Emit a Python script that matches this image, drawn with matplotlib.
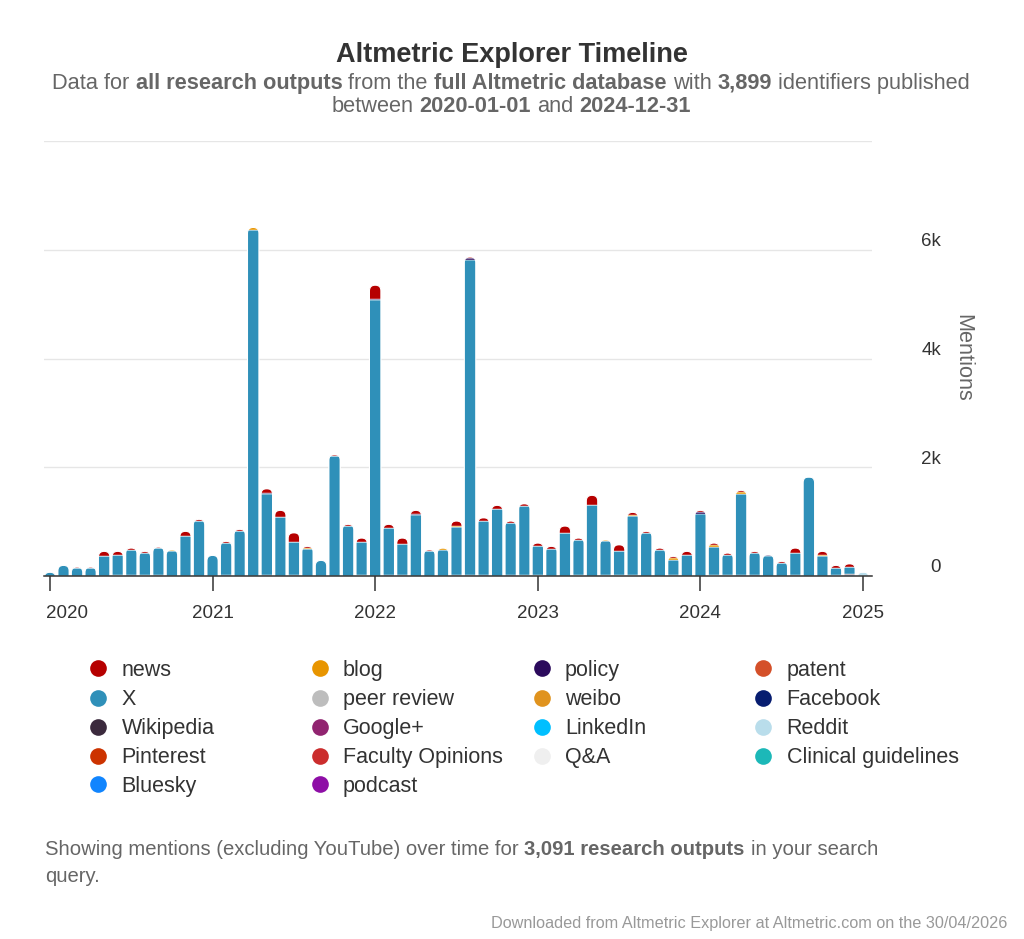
import matplotlib
matplotlib.use("Agg")
import matplotlib.pyplot as plt
from matplotlib.patches import FancyBboxPatch
from matplotlib.lines import Line2D

plt.rcParams['font.family'] = ['Liberation Sans', 'DejaVu Sans']

W, H = 1024, 939

# months since 2020-01 (last one is 2025-01)
months = list(range(61))
year_ticks = [0, 12, 24, 36, 48, 60]
year_labels = ['2020', '2021', '2022', '2023', '2024', '2025']
y_ticks = [0, 2000, 4000, 6000, 8000]
y_labels = ['0', '2k', '4k', '6k', '']

news = [0, 0, 25, 25, 90, 70, 30, 30, 25, 0, 90, 30,
        0, 30, 30, 0, 80, 130, 180, 25, 0, 30, 30, 70,
        260, 70, 110, 60, 20, 0, 90, 30, 60, 60, 30, 50,
        50, 50, 130, 40, 185, 0, 120, 40, 30, 30, 40, 60,
        30, 40, 40, 40, 40, 0, 40, 100, 0, 60, 40, 60, 0]
blog = [0, 0, 0, 0, 0, 0, 0, 0, 0, 30, 0, 0,
        0, 0, 0, 40, 0, 0, 0, 30, 0, 0, 0, 0,
        0, 0, 0, 0, 0, 30, 30, 0, 0, 0, 0, 0,
        0, 0, 0, 0, 0, 30, 0, 30, 0, 0, 30, 0,
        0, 30, 0, 30, 0, 0, 0, 0, 0, 25, 0, 0, 0]
policy = [0, 0, 0, 0, 0, 0, 0, 0, 0, 0, 0, 0,
          0, 0, 0, 0, 20, 0, 0, 0, 0, 0, 0, 0,
          20, 0, 0, 30, 0, 0, 0, 30, 0, 0, 0, 0,
          0, 0, 0, 0, 0, 0, 0, 0, 0, 0, 0, 0,
          30, 0, 0, 0, 0, 30, 0, 0, 0, 0, 0, 0, 0]
x_posts = [70, 196, 141, 141, 364, 369, 465, 409, 489, 455, 732, 1013,
           380, 588, 829, 6370, 1487, 1078, 597, 491, 288, 2203, 921, 614,
           5069, 861, 569, 1118, 465, 485, 872, 5790, 993, 1240, 962, 1261,
           537, 496, 790, 644, 1299, 624, 442, 1086, 792, 485, 272, 394,
           1148, 522, 368, 1486, 394, 363, 230, 395, 1822, 369, 136, 127, 0]
peer_review = [0, 0, 0, 0, 0, 15, 0, 15, 0, 0, 0, 0,
               0, 0, 0, 0, 0, 0, 0, 0, 0, 0, 0, 15,
               0, 0, 0, 0, 0, 0, 0, 0, 0, 0, 0, 20,
               20, 0, 0, 15, 0, 15, 15, 15, 0, 0, 0, 0,
               0, 15, 15, 0, 0, 0, 0, 0, 0, 0, 0, 0, 0]
facebook = [0, 0, 0, 0, 0, 0, 20, 0, 0, 0, 0, 0,
            0, 20, 0, 0, 0, 0, 0, 0, 0, 0, 0, 0,
            0, 20, 0, 0, 0, 0, 0, 0, 20, 0, 20, 0,
            0, 0, 0, 0, 0, 0, 0, 0, 0, 0, 0, 0,
            0, 0, 0, 20, 20, 0, 0, 0, 0, 0, 0, 0, 0]
wikipedia = [0, 0, 0, 0, 0, 0, 0, 0, 20, 0, 0, 0,
             0, 0, 0, 0, 20, 0, 20, 0, 0, 0, 0, 0,
             0, 0, 20, 0, 0, 0, 20, 20, 0, 0, 0, 0,
             0, 0, 0, 0, 0, 0, 0, 0, 0, 0, 20, 0,
             0, 0, 0, 0, 0, 0, 0, 20, 0, 0, 0, 20, 0]
reddit = [0] * 60 + [74]
bluesky = [0] * 58 + [20, 20, 0]
no_mentions = [0] * 61

# legend order (Highcharts stacks the first one on top)
series = [
    ('news', '#b60000', news),
    ('blog', '#e89500', blog),
    ('policy', '#2b0a5c', policy),
    ('patent', '#d45029', no_mentions),
    ('X', '#2f90b9', x_posts),
    ('peer review', '#bdbdbd', peer_review),
    ('weibo', '#e0931e', no_mentions),
    ('Facebook', '#071d70', facebook),
    ('Wikipedia', '#3b2a3d', wikipedia),
    ('Google+', '#912470', no_mentions),
    ('LinkedIn', '#00bfff', no_mentions),
    ('Reddit', '#b9ddeb', reddit),
    ('Pinterest', '#cc3300', no_mentions),
    ('Faculty Opinions', '#cb2d2d', no_mentions),
    ('Q&A', '#efefef', no_mentions),
    ('Clinical guidelines', '#1cb8b8', no_mentions),
    ('Bluesky', '#1185fe', bluesky),
    ('podcast', '#8e0ea6', no_mentions),
]

fig = plt.figure(figsize=(W / 100, H / 100), dpi=100)

# plot area in pixels
px_l, px_r, px_t, px_b = 44, 872, 141, 576
ax = fig.add_axes([px_l / W, (H - px_b) / H, (px_r - px_l) / W, (px_b - px_t) / H])
xmin, xmax = -0.44, 60.66
ymax = 8000
ax.set_xlim(xmin, xmax)
ax.set_ylim(0, ymax)

ax.set_yticks(y_ticks)
ax.yaxis.grid(True, color='#e6e6e6', linewidth=1)
ax.set_axisbelow(True)
ax.tick_params(axis='y', length=0, labelleft=False, labelright=False)
ax.set_xticks(year_ticks)
ax.set_xticklabels([])
ax.tick_params(axis='x', direction='out', length=11, width=1.1, color='#333333')
for s in ['top', 'left', 'right']:
    ax.spines[s].set_visible(False)
ax.spines['bottom'].set_color('#333333')
ax.spines['bottom'].set_linewidth(1.1)
ax.spines['bottom'].set_zorder(5)

# rounded column tops: clip every segment with one rounded box per month
bw = 0.85
px_x = (px_r - px_l) / (xmax - xmin)
px_y = (px_b - px_t) / ymax
aspect = px_x / px_y
totals = [sum(s[2][i] for s in series) for i in months]
clips = []
for i in months:
    p = FancyBboxPatch((i - bw / 2, -3000), bw, totals[i] + 3000,
                       boxstyle=f"round,pad=0,rounding_size={bw / 2}",
                       mutation_aspect=aspect, transform=ax.transData,
                       facecolor='none', edgecolor='white', linewidth=0.8,
                       zorder=3)
    clips.append(p)

bottom = [0] * len(months)
for name, color, vals in reversed(series):
    if not any(vals):
        continue
    bars = ax.bar(months, vals, bottom=bottom, width=bw, color=color,
                  edgecolor='white', linewidth=0.3, zorder=2)
    for i, b in enumerate(bars.patches):
        b.set_clip_path(clips[i])
    bottom = [b + v for b, v in zip(bottom, vals)]
for p in clips:
    ax.add_patch(p)

# year labels (first one kept inside the plot area)
for t, lab in zip(year_ticks, year_labels):
    if t == 0:
        ax.annotate(lab, xy=(t, 0), xycoords=('data', 'axes fraction'),
                    xytext=(-4, -42), textcoords='offset pixels',
                    ha='left', va='baseline', fontsize=13.5, color='#333333')
    else:
        ax.annotate(lab, xy=(t, 0), xycoords=('data', 'axes fraction'),
                    xytext=(0, -42), textcoords='offset pixels',
                    ha='center', va='baseline', fontsize=13.5, color='#333333')

for v, lab in zip(y_ticks, y_labels):
    ax.annotate(lab, xy=(1, v), xycoords=('axes fraction', 'data'),
                xytext=(941 - px_r, 3.5), textcoords='offset pixels',
                ha='right', va='baseline', fontsize=13.5, color='#333333')

# overlay in pixel coordinates for titles, legend and notes
ov = fig.add_axes([0, 0, 1, 1])
ov.set_xlim(0, W)
ov.set_ylim(H, 0)
ov.axis('off')

ov.text(963, 358, 'Mentions', rotation=270, ha='center', va='center',
        fontsize=15.7, color='#666666')

renderer = fig.canvas.get_renderer()


def text_width(s, size, bold):
    t = ov.text(0, 0, s, fontsize=size, fontweight='bold' if bold else 'normal')
    w = t.get_window_extent(renderer).width
    t.remove()
    return w


def rich_line(x, y, parts, size, color, ha='left'):
    # parts: list of (text, bold), drawn one after the other
    segs = []
    gap = False
    for txt, bold in parts:
        segs.append((txt.strip(), bold, gap or txt.startswith(' ')))
        gap = txt.endswith(' ')
    bar = text_width('|', size, False)
    space = text_width('x x', size, False) - text_width('xx', size, False)
    pos = []
    cur = 0.0
    for n, (s, bold, sp) in enumerate(segs):
        if n > 0 and sp:
            cur += space
        pos.append(cur)
        cur += text_width(s + '|', size, bold) - bar
    if ha == 'center':
        x0 = x - cur / 2
    elif ha == 'right':
        x0 = x - cur
    else:
        x0 = x
    for (s, bold, sp), p in zip(segs, pos):
        ov.text(x0 + p, y, s, fontsize=size, color=color, ha='left', va='baseline',
                fontweight='bold' if bold else 'normal')


ov.text(512, 62, 'Altmetric Explorer Timeline', ha='center', va='baseline',
        fontsize=19.5, fontweight='bold', color='#333333')
rich_line(511, 89, [('Data for ', False), ('all research outputs', True),
                    (' from the ', False), ('full Altmetric database', True),
                    (' with ', False), ('3,899', True),
                    (' identifiers published', False)], 15.7, '#666666', ha='center')
rich_line(511, 112, [('between ', False), ('2020-01-01', True), (' and ', False),
                     ('2024-12-31', True)], 15.7, '#666666', ha='center')

# legend, 4 columns
col_mark = [98.3, 320, 541.7, 763]
col_text = [121.7, 343, 565, 786.7]
row_y = [668.3, 697.7, 726.5, 755.5, 784.3]
for k, (name, color, vals) in enumerate(series):
    r, c = divmod(k, 4)
    ov.add_line(Line2D([col_mark[c]], [row_y[r]], marker='o', markersize=12,
                       markerfacecolor=color, markeredgewidth=0, linestyle='none'))
    ov.text(col_text[c], row_y[r] + 7.7, name, ha='left', va='baseline',
            fontsize=15.5, color='#333333')

rich_line(45, 855, [('Showing mentions (excluding YouTube) over time for ', False),
                    ('3,091 research outputs', True), (' in your search', False)],
          14.6, '#666666')
ov.text(45, 881.5, 'query.', ha='left', va='baseline', fontsize=14.6, color='#666666')
ov.text(1007, 928, 'Downloaded from Altmetric Explorer at Altmetric.com on the 30/04/2026',
        ha='right', va='baseline', fontsize=11.7, color='#999999')

fig.savefig('out.png', dpi=100, facecolor='white')
